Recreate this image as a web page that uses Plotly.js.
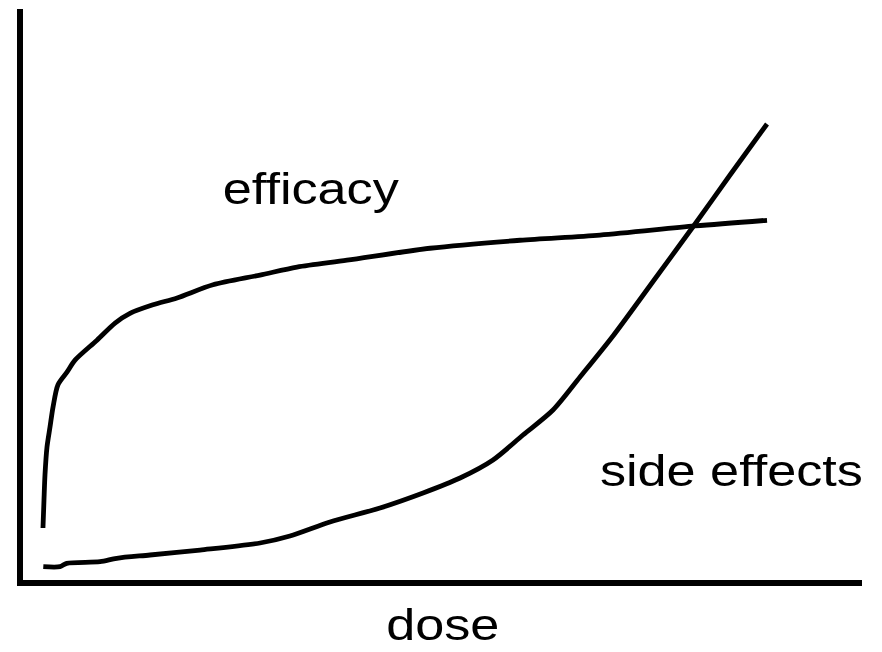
<!DOCTYPE html>
<html>
<head>
<meta charset="utf-8">
<script src="https://cdn.plot.ly/plotly-3.0.1.min.js"></script>
<style>
  body { margin: 0; background: #fff; }
  #plot { width: 882px; height: 652px; }
  /* the reference lettering is a little wider than Arial */
  #plot .annotation-text { transform-box: fill-box; transform-origin: center; transform: scaleX(1.16); }
</style>
</head>
<body>
<div id="plot"></div>
<script>
// efficacy curve (dose vs response, arbitrary units 0-100)
const efficacyDose = [2.38, 2.50, 2.62, 2.86, 3.22, 3.58, 4.17, 5.24, 6.20, 8.82, 10.97, 12.75, 15.49, 18.36, 22.65, 28.25, 32.66, 38.62, 48.51, 59.24, 68.77, 80.10, 88.68];
const efficacyResp = [9.11, 14.0, 18.4, 23.3, 26.8, 30.3, 34.2, 36.4, 38.5, 42.0, 45.0, 46.7, 48.2, 49.4, 51.7, 53.4, 54.8, 56.0, 58.1, 59.5, 60.4, 62.0, 63.0];

// side effects curve
const sideDose = [2.42, 4.41, 5.21, 9.18, 11.17, 15.14, 21.10, 28.25, 31.82, 36.59, 42.55, 47.68, 52.09, 56.02, 59.59, 63.17, 66.39, 70.32, 75.57, 80.10, 84.27, 88.68];
const sideResp = [2.33, 2.33, 2.92, 3.20, 3.80, 4.38, 5.25, 6.48, 7.71, 10.16, 12.61, 15.24, 17.86, 21.02, 25.39, 29.77, 35.55, 42.73, 53.24, 62.35, 70.93, 79.86];

const labels = ['efficacy', 'side effects', 'dose'];

const fontFam = '"Liberation Sans", Arial, Helvetica, sans-serif';

let efficacy = {
    x: efficacyDose,
    y: efficacyResp,
    mode: 'lines',
    name: labels[0],
    line: { color: '#000', width: 4.8, shape: 'spline', smoothing: 0.8 }
};

let sideEffects = {
    x: sideDose,
    y: sideResp,
    mode: 'lines',
    name: labels[1],
    line: { color: '#000', width: 4.8, shape: 'spline', smoothing: 0.8 }
};

const layout = {
    width: 882,
    height: 652,
    margin: { l: 23, r: 20, t: 9, b: 72 },
    paper_bgcolor: '#fff',
    plot_bgcolor: '#fff',
    showlegend: false,
    font: { family: fontFam, color: '#000' },
    xaxis: {
        range: [0, 100],
        showline: true,
        linewidth: 6,
        linecolor: '#000',
        showgrid: false,
        zeroline: false,
        showticklabels: false,
        ticks: ''
    },
    yaxis: {
        range: [0, 100],
        showline: true,
        linewidth: 6,
        linecolor: '#000',
        showgrid: false,
        zeroline: false,
        showticklabels: false,
        ticks: ''
    },
    annotations: [
        {
            x: 34.3, y: 68.6, xref: 'x', yref: 'y',
            text: labels[0], showarrow: false,
            xanchor: 'center', yanchor: 'middle',
            font: { size: 45, family: fontFam, color: '#000' }
        },
        {
            x: 84.5, y: 19.25, xref: 'x', yref: 'y',
            text: labels[1], showarrow: false,
            xanchor: 'center', yanchor: 'middle',
            font: { size: 45, family: fontFam, color: '#000' }
        },
        {
            x: 0.5, y: -0.0773, xref: 'paper', yref: 'paper',
            text: labels[2], showarrow: false,
            xanchor: 'center', yanchor: 'middle',
            font: { size: 45, family: fontFam, color: '#000' }
        }
    ]
};

const config = { displayModeBar: false, staticPlot: true };

Plotly.newPlot('plot', [efficacy, sideEffects], layout, config);
</script>
</body>
</html>
